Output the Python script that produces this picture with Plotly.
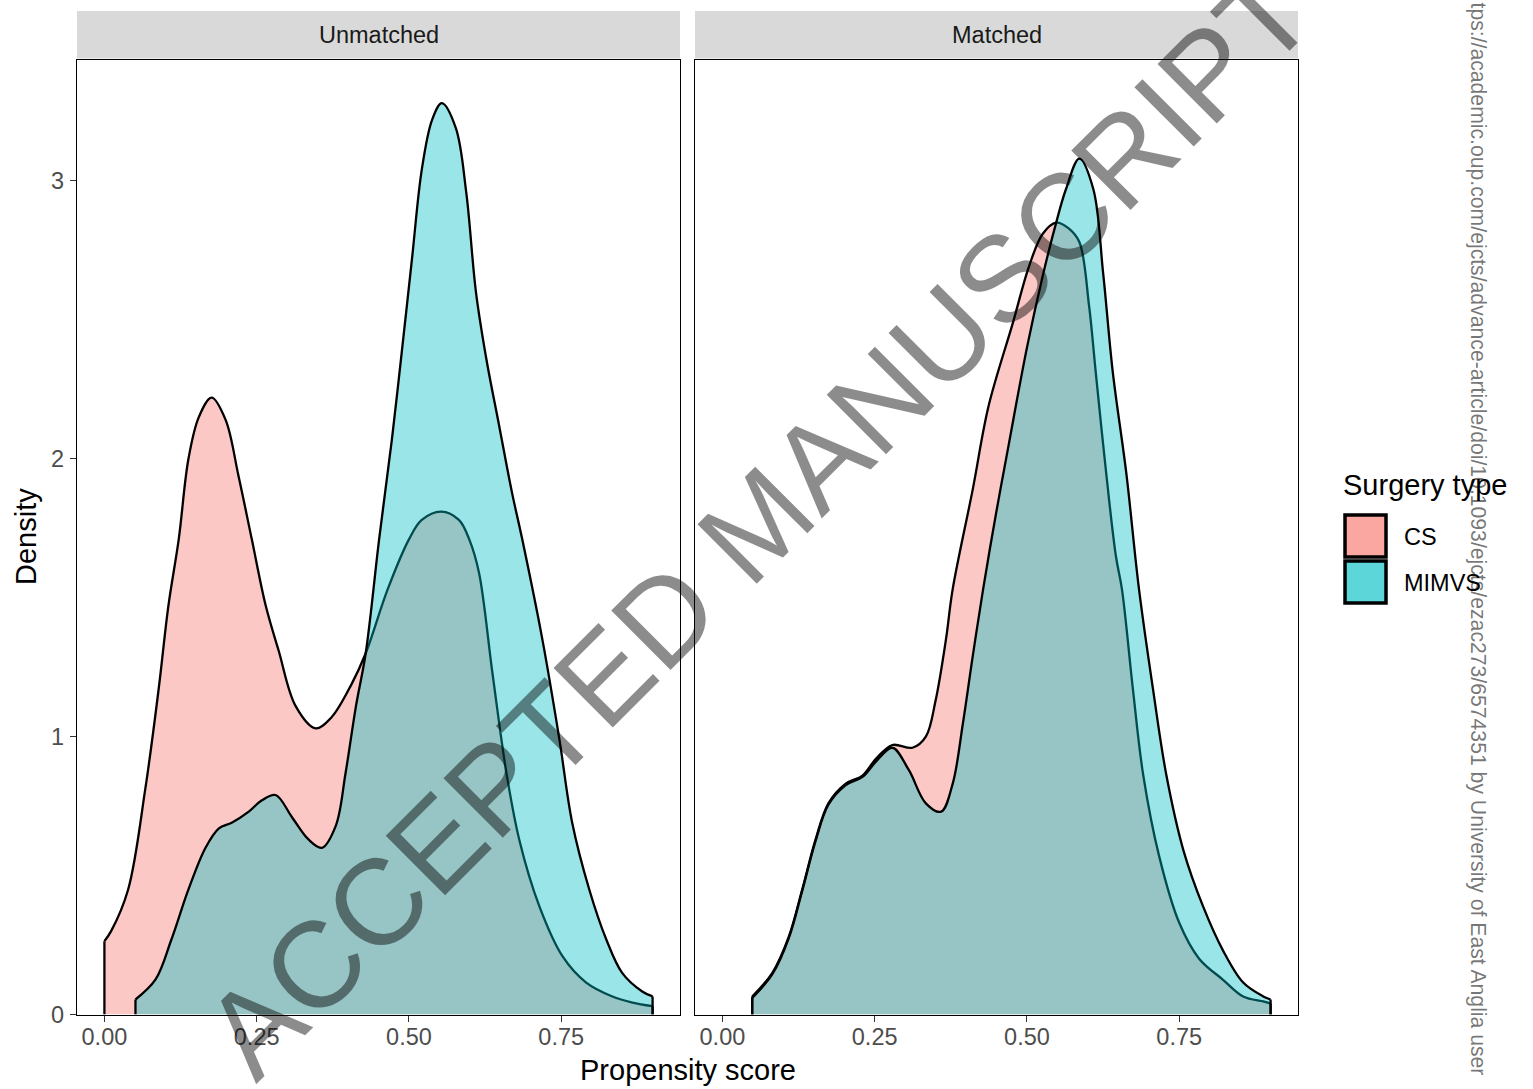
import plotly.graph_objects as go

# ---------------- data ----------------
unm_cs_x = [0.000, 0.011, 0.039, 0.067, 0.089, 0.105, 0.122, 0.138, 0.155, 0.176, 0.199, 0.220,
            0.242, 0.265, 0.286, 0.314, 0.347, 0.373, 0.406, 0.429, 0.465, 0.500, 0.521, 0.553,
            0.582, 0.599, 0.615, 0.637, 0.660, 0.681, 0.714, 0.752, 0.791, 0.834, 0.867, 0.900]
unm_cs_y = [0.264, 0.30, 0.45, 0.81, 1.17, 1.47, 1.71, 2.00, 2.15, 2.22, 2.14, 1.94,
            1.71, 1.47, 1.31, 1.11, 1.03, 1.07, 1.19, 1.30, 1.53, 1.71, 1.78, 1.81,
            1.78, 1.71, 1.59, 1.23, 0.87, 0.63, 0.39, 0.21, 0.115, 0.065, 0.043, 0.030]

unm_mi_x = [0.051, 0.084, 0.110, 0.138, 0.166, 0.188, 0.209, 0.237, 0.258, 0.281, 0.308, 0.335,
            0.357, 0.380, 0.396, 0.413, 0.429, 0.451, 0.472, 0.488, 0.505, 0.521, 0.538, 0.554,
            0.577, 0.594, 0.610, 0.627, 0.648, 0.669, 0.686, 0.719, 0.747, 0.768, 0.796, 0.824,
            0.850, 0.883, 0.900]
unm_mi_y = [0.054, 0.126, 0.27, 0.45, 0.60, 0.67, 0.69, 0.73, 0.77, 0.79, 0.71, 0.63,
            0.60, 0.68, 0.87, 1.11, 1.30, 1.71, 2.07, 2.38, 2.72, 3.04, 3.22, 3.28,
            3.19, 2.96, 2.60, 2.36, 2.12, 1.88, 1.71, 1.35, 0.99, 0.69, 0.45, 0.27,
            0.15, 0.083, 0.065]

mat_cs_x = [0.049, 0.082, 0.109, 0.131, 0.153, 0.174, 0.202, 0.230, 0.252, 0.279, 0.312, 0.334,
            0.350, 0.367, 0.378, 0.411, 0.437, 0.477, 0.503, 0.526, 0.548, 0.568, 0.586,
            0.602, 0.613, 0.630, 0.646, 0.656, 0.674, 0.691, 0.717, 0.750, 0.783, 0.822, 0.855,
            0.888, 0.900]
mat_cs_y = [0.065, 0.15, 0.28, 0.45, 0.63, 0.76, 0.83, 0.86, 0.92, 0.97, 0.96, 1.00,
            1.13, 1.35, 1.53, 1.89, 2.19, 2.49, 2.69, 2.81, 2.85, 2.83, 2.78,
            2.55, 2.31, 1.95, 1.65, 1.53, 1.17, 0.86, 0.57, 0.33, 0.20, 0.125, 0.065,
            0.047, 0.040]

mat_mi_x = [0.049, 0.082, 0.109, 0.131, 0.153, 0.174, 0.202, 0.230, 0.252, 0.279, 0.306, 0.334,
            0.359, 0.378, 0.395, 0.411, 0.428, 0.449, 0.470, 0.500, 0.525, 0.548, 0.564, 0.586,
            0.609, 0.625, 0.641, 0.663, 0.684, 0.707, 0.729, 0.757, 0.789, 0.822, 0.855, 0.888,
            0.900]
mat_mi_y = [0.060, 0.145, 0.275, 0.445, 0.625, 0.755, 0.825, 0.855, 0.91, 0.96, 0.88, 0.76,
            0.73, 0.83, 1.05, 1.29, 1.53, 1.80, 2.05, 2.40, 2.65, 2.85, 2.97, 3.08,
            2.97, 2.67, 2.31, 1.95, 1.53, 1.17, 0.86, 0.59, 0.39, 0.23, 0.115, 0.065,
            0.054]

facets = ["Unmatched", "Matched"]
groups = ["CS", "MIMVS"]
x_ticks = [0.0, 0.25, 0.5, 0.75]
y_ticks = [0, 1, 2, 3]

fill_cols = {"CS": "rgba(248,118,109,0.4)", "MIMVS": "rgba(0,191,196,0.4)"}
key_cols = {"CS": "rgb(250,167,162)", "MIMVS": "rgb(92,214,217)"}

FONT = "Liberation Sans, Arial, sans-serif"
W, H = 1533, 1089


def px(v):
    return v / W


def py(v):
    return 1 - v / H


fig = go.Figure()

series = {
    ("Unmatched", "CS"): (unm_cs_x, unm_cs_y),
    ("Unmatched", "MIMVS"): (unm_mi_x, unm_mi_y),
    ("Matched", "CS"): (mat_cs_x, mat_cs_y),
    ("Matched", "MIMVS"): (mat_mi_x, mat_mi_y),
}

for i, fac in enumerate(facets):
    xa = "x" if i == 0 else "x2"
    ya = "y" if i == 0 else "y2"
    for g in groups:
        xs, ys = series[(fac, g)]
        fig.add_trace(go.Scatter(
            x=xs, y=ys, mode="lines", fill="tozeroy", fillcolor=fill_cols[g],
            line=dict(color="black", width=2.3, shape="spline", smoothing=1.0),
            xaxis=xa, yaxis=ya, showlegend=False, hoverinfo="skip"))
        fig.add_trace(go.Scatter(
            x=[xs[0], xs[0], None, xs[-1], xs[-1]], y=[0, ys[0], None, ys[-1], 0],
            mode="lines", line=dict(color="black", width=2.3),
            xaxis=xa, yaxis=ya, showlegend=False, hoverinfo="skip"))

# panel geometry (pixels)
panel_x = [(77, 680), (695, 1298)]
panel_top, panel_bot = 59.5, 1014.5
strip_top = 11

axis_common = dict(
    showline=True, mirror=True, linecolor="black", linewidth=1.3,
    showgrid=False, zeroline=False, automargin=False,
)
xcommon = dict(axis_common, range=[-0.045, 0.945], tickvals=x_ticks,
               ticktext=[f"{v:.2f}" for v in x_ticks], ticks="outside", ticklen=6,
               tickwidth=1.3, tickcolor="#333333", ticklabelstandoff=-5,
               tickfont=dict(family=FONT, size=23.5, color="#4D4D4D"))
ycommon = dict(axis_common, range=[0, 3.437])

fig.update_layout(
    template="none",
    width=W, height=H, autosize=False, margin=dict(l=0, r=0, t=0, b=0, pad=0),
    paper_bgcolor="white", plot_bgcolor="white",
    xaxis=dict(xcommon, domain=[px(panel_x[0][0]), px(panel_x[0][1])], anchor="y"),
    xaxis2=dict(xcommon, domain=[px(panel_x[1][0]), px(panel_x[1][1])], anchor="y2"),
    yaxis=dict(ycommon, domain=[py(panel_bot), py(panel_top)], anchor="x",
               tickvals=y_ticks, ticks="outside", ticklen=6, tickwidth=1.3,
               tickcolor="#333333", ticklabelstandoff=1,
               tickfont=dict(family=FONT, size=23.5, color="#4D4D4D")),
    yaxis2=dict(ycommon, domain=[py(panel_bot), py(panel_top)], anchor="x2",
                showticklabels=False, ticks=""),
    showlegend=False,
)

shapes = []
annotations = []
for i, fac in enumerate(facets):
    x0, x1 = panel_x[i]
    shapes.append(dict(type="rect", xref="paper", yref="paper",
                       x0=px(x0), x1=px(x1), y0=py(panel_top - 1), y1=py(strip_top),
                       fillcolor="#D9D9D9", line=dict(width=0), layer="below"))
    annotations.append(dict(text=fac, xref="paper", yref="paper",
                            x=px((x0 + x1) / 2), y=py(35), showarrow=False,
                            xanchor="center", yanchor="middle",
                            font=dict(family=FONT, size=23.5, color="#1A1A1A")))

# axis titles
annotations.append(dict(text="Propensity score", xref="paper", yref="paper",
                        x=px(687.5), y=py(1070), showarrow=False,
                        xanchor="center", yanchor="middle",
                        font=dict(family=FONT, size=29, color="black")))
annotations.append(dict(text="Density", xref="paper", yref="paper",
                        x=px(26), y=py(537), showarrow=False, textangle=-90,
                        xanchor="center", yanchor="middle",
                        font=dict(family=FONT, size=29, color="black")))

# legend (drawn manually)
annotations.append(dict(text="Surgery type", xref="paper", yref="paper",
                        x=px(1341), y=py(485), showarrow=False,
                        xanchor="left", yanchor="middle",
                        font=dict(family=FONT, size=29, color="black")))
key_top = 514
for j, g in enumerate(groups):
    ky0 = key_top + j * 46
    shapes.append(dict(type="rect", xref="paper", yref="paper",
                       x0=px(1345), x1=px(1386), y0=py(ky0 + 43), y1=py(ky0 + 1),
                       fillcolor=key_cols[g], line=dict(color="black", width=3.5)))
    annotations.append(dict(text=g, xref="paper", yref="paper",
                            x=px(1402), y=py(ky0 + 23), showarrow=False,
                            xanchor="left", yanchor="middle",
                            font=dict(family=FONT, size=23.5, color="black")))

# watermark
annotations.append(dict(text="ACCEPTED MANUSCRIPT", xref="paper", yref="paper",
                        x=px(758), y=py(523), showarrow=False, textangle=-45,
                        xanchor="center", yanchor="middle",
                        font=dict(family=FONT, size=122, color="rgba(0,0,0,0.45)")))

# side download note
annotations.append(dict(
    text="tps://academic.oup.com/ejcts/advance-article/doi/10.1093/ejcts/ezac273/6574351 by University of East Anglia user",
    xref="paper", yref="paper", x=px(1478), y=py(0), showarrow=False, textangle=90,
    xanchor="center", yanchor="top",
    font=dict(family=FONT, size=21.2, color="rgba(0,0,0,0.55)")))

fig.update_layout(shapes=shapes, annotations=annotations)

fig.write_html("out.html",
               config={"responsive": False, "displayModeBar": False},
               post_script="document.body.style.margin='0';document.body.style.overflow='hidden';")
